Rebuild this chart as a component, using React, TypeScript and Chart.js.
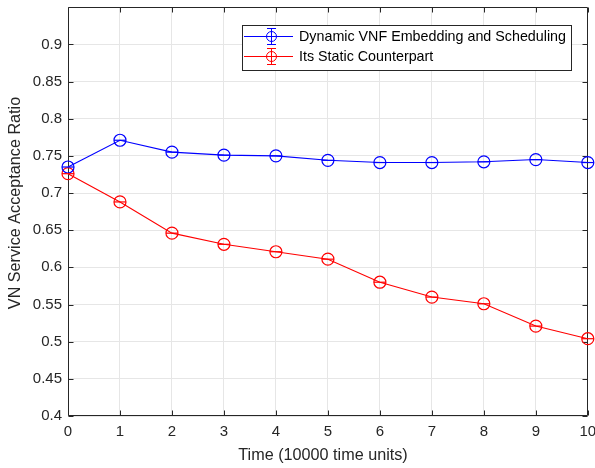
import React, { useEffect, useRef } from "react";
import { Chart, registerables } from "chart.js";

Chart.register(...registerables);

const timeSteps = [0, 1, 2, 3, 4, 5, 6, 7, 8, 9, 10];
const dynamicValues = [0.735, 0.771, 0.755, 0.751, 0.75, 0.744, 0.741, 0.741, 0.742, 0.745, 0.741];
const staticValues = [0.726, 0.688, 0.646, 0.631, 0.621, 0.611, 0.58, 0.56, 0.551, 0.521, 0.504];
const seriesLabels = ["Dynamic VNF Embedding and Scheduling", "Its Static Counterpart"];
const seriesColors = ["#0000ff", "#ff0000"];
const yTickValues = [0.4, 0.45, 0.5, 0.55, 0.6, 0.65, 0.7, 0.75, 0.8, 0.85, 0.9];
const xTitle = "Time (10000 time units)";
const yTitle = "VN Service Acceptance Ratio";

const FONT = "'Liberation Sans', Arial, Helvetica, sans-serif";
const TEXT = "#262626";

const markerPlugin = {
  id: "markerBars",
  afterDatasetsDraw(chart: any) {
    const ctx = chart.ctx;
    chart.data.datasets.forEach((ds: any, i: number) => {
      const meta = chart.getDatasetMeta(i);
      ctx.save();
      ctx.strokeStyle = ds.borderColor;
      ctx.lineWidth = 1.2;
      meta.data.forEach((pt: any) => {
        ctx.beginPath();
        ctx.moveTo(pt.x - 6, pt.y);
        ctx.lineTo(pt.x + 6, pt.y);
        ctx.stroke();
      });
      ctx.restore();
    });
  },
};

const boxPlugin = {
  id: "axesBox",
  beforeDatasetsDraw(chart: any) {
    const ctx = chart.ctx;
    const { left, right, top, bottom } = chart.chartArea;
    const xs = chart.scales.x;
    const ys = chart.scales.y;
    ctx.save();
    ctx.strokeStyle = "#262626";
    ctx.lineWidth = 1;
    const L = Math.round(left) + 0.5;
    const R = Math.round(right) - 0.5;
    const T = Math.round(top) + 0.5;
    const B = Math.round(bottom) - 0.5;
    ctx.beginPath();
    ctx.rect(L, T, R - L, B - T);
    ctx.stroke();
    ctx.beginPath();
    xs.ticks.forEach((t: any) => {
      const x = Math.round(xs.getPixelForValue(t.value)) + 0.5;
      ctx.moveTo(x, B);
      ctx.lineTo(x, B - 5);
      ctx.moveTo(x, T);
      ctx.lineTo(x, T + 5);
    });
    ys.ticks.forEach((t: any) => {
      const y = Math.round(ys.getPixelForValue(t.value)) + 0.5;
      ctx.moveTo(L, y);
      ctx.lineTo(L + 5, y);
      ctx.moveTo(R, y);
      ctx.lineTo(R - 5, y);
    });
    ctx.stroke();

    // axis titles
    ctx.fillStyle = TEXT;
    ctx.font = "16.2px " + FONT;
    ctx.textAlign = "center";
    ctx.textBaseline = "middle";
    ctx.fillText(xTitle, 323, 456);
    ctx.translate(16, 203);
    ctx.rotate(-Math.PI / 2);
    ctx.fillText(yTitle, 0, 0);
    ctx.restore();
  },
  afterDraw(chart: any) {
    const ctx = chart.ctx;
    ctx.save();
    const lx = 242.5, ly = 25.5, lw = 329, lh = 45;
    ctx.fillStyle = "#ffffff";
    ctx.fillRect(lx, ly, lw, lh);
    ctx.strokeStyle = "#262626";
    ctx.lineWidth = 1;
    ctx.strokeRect(lx, ly, lw, lh);
    ctx.font = "14.3px " + FONT;
    ctx.textBaseline = "middle";
    chart.data.datasets.forEach((ds: any, i: number) => {
      const y = Math.round(36 + i * 20) + 0.5;
      ctx.strokeStyle = ds.borderColor;
      ctx.beginPath();
      ctx.moveTo(244, y);
      ctx.lineTo(293, y);
      ctx.moveTo(271.5, y - 8);
      ctx.lineTo(271.5, y + 8);
      ctx.moveTo(267, y - 8);
      ctx.lineTo(276, y - 8);
      ctx.moveTo(267, y + 8);
      ctx.lineTo(276, y + 8);
      ctx.stroke();
      ctx.beginPath();
      ctx.arc(271.5, y, 5, 0, Math.PI * 2);
      ctx.stroke();
      ctx.fillStyle = "#000000";
      ctx.fillText(ds.label, 299, y + 1);
    });
    ctx.restore();
  },
};

export default function App() {
  const ref = useRef<HTMLCanvasElement>(null);
  useEffect(() => {
    if (!ref.current) return;
    const datasets = [dynamicValues, staticValues].map((vals, i) => ({
      label: seriesLabels[i],
      data: timeSteps.map((t, j) => ({ x: t, y: vals[j] })),
      borderColor: seriesColors[i],
      backgroundColor: "rgba(0,0,0,0)",
      borderWidth: 1.1,
      pointRadius: 6,
      pointHoverRadius: 6,
      pointBorderWidth: 1.2,
      pointStyle: "circle",
      tension: 0,
      clip: false,
    }));
    const chart = new Chart(ref.current, {
      type: "line",
      data: { datasets },
      plugins: [markerPlugin, boxPlugin],
      options: {
        animation: false,
        responsive: false,
        maintainAspectRatio: false,
        events: [],
        layout: { padding: { left: 0, right: 7, top: 7, bottom: 0 } },
        plugins: { legend: { display: false }, tooltip: { enabled: false } },
        scales: {
          x: {
            type: "linear",
            min: 0,
            max: 10,
            afterBuildTicks: (axis: any) => {
              axis.ticks = timeSteps.map((v) => ({ value: v }));
            },
            afterFit: (axis: any) => {
              axis.height = 52;
              axis.paddingLeft = 0;
              axis.paddingRight = 0;
            },
            grid: { color: "#e6e6e6", drawTicks: false, lineWidth: 1 },
            border: { display: false },
            ticks: {
              padding: 7,
              color: TEXT,
              font: { family: FONT, size: 15 },
              maxRotation: 0,
              callback: (v: any) => String(v),
            },
            title: { display: false },
          },
          y: {
            type: "linear",
            min: 0.4,
            max: 0.95,
            afterBuildTicks: (axis: any) => {
              axis.ticks = yTickValues.map((v) => ({ value: v }));
            },
            afterFit: (axis: any) => {
              axis.width = 68;
              axis.paddingTop = 0;
              axis.paddingBottom = 0;
            },
            grid: { color: "#e6e6e6", drawTicks: false, lineWidth: 1 },
            border: { display: false },
            ticks: {
              padding: 6,
              color: TEXT,
              font: { family: FONT, size: 15 },
              callback: (v: any) => String(Math.round(v * 100) / 100),
            },
            title: { display: false },
          },
        },
      },
    } as any);
    return () => chart.destroy();
  }, []);
  return (
    <div style={{ position: "absolute", left: 0, top: 0, width: 595, height: 468, background: "#fff" }}>
      <canvas ref={ref} width={595} height={468} style={{ width: 595, height: 468 }} />
    </div>
  );
}
